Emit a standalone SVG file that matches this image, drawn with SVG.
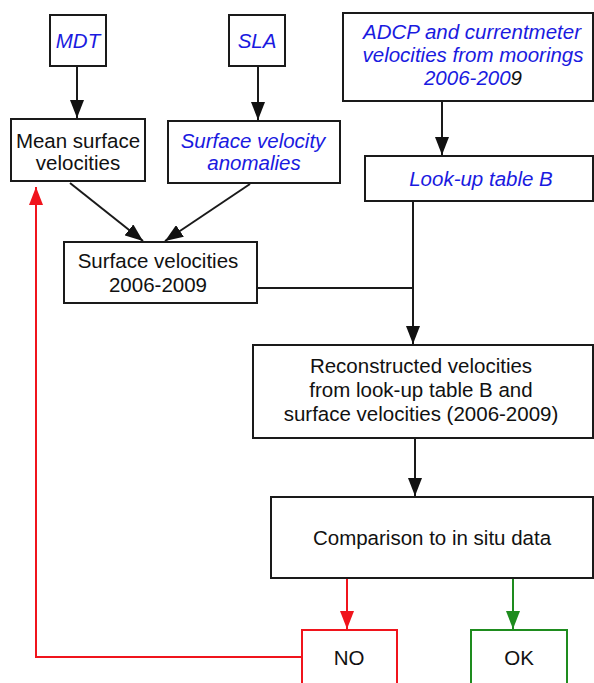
<svg xmlns="http://www.w3.org/2000/svg" width="594" height="683" viewBox="0 0 594 683">
<style>
.box{fill:#fff;stroke:#1a1a1a;stroke-width:2}
.t{font-family:"Liberation Sans",Arial,sans-serif;font-size:20.5px;fill:#111;text-anchor:middle}
.b{fill:#1a1ae0;font-style:italic}
.c{fill:none;stroke:#1a1a1a;stroke-width:2}
.red{stroke:#f0141c}
.grn{stroke:#1e8c1e}
</style>
<defs>
<marker id="ak" markerUnits="userSpaceOnUse" markerWidth="18" markerHeight="14" refX="18" refY="7" orient="auto"><path d="M0,0 L18,7 L0,14 z" fill="#111"/></marker>
<marker id="ar" markerUnits="userSpaceOnUse" markerWidth="18" markerHeight="14" refX="18" refY="7" orient="auto"><path d="M0,0 L18,7 L0,14 z" fill="#f0141c"/></marker>
<marker id="ag" markerUnits="userSpaceOnUse" markerWidth="18" markerHeight="14" refX="18" refY="7" orient="auto"><path d="M0,0 L18,7 L0,14 z" fill="#1e8c1e"/></marker>
</defs>
<rect width="594" height="683" fill="#fff"/>
<g id="connectors">
<line class="c" x1="77" y1="66" x2="77" y2="118" marker-end="url(#ak)"/>
<line class="c" x1="258" y1="66" x2="258" y2="120" marker-end="url(#ak)"/>
<line class="c" x1="442" y1="101" x2="442" y2="155" marker-end="url(#ak)"/>
<line class="c" x1="70" y1="183" x2="143" y2="241" marker-end="url(#ak)"/>
<line class="c" x1="250" y1="184" x2="165" y2="241" marker-end="url(#ak)"/>
<line class="c" x1="413" y1="201" x2="413" y2="344" marker-end="url(#ak)"/>
<line class="c" x1="257" y1="288" x2="413" y2="288"/>
<line class="c" x1="415" y1="438" x2="415" y2="496" marker-end="url(#ak)"/>
<line class="c red" x1="347" y1="578" x2="347" y2="629" marker-end="url(#ar)"/>
<line class="c grn" x1="513" y1="578" x2="513" y2="629" marker-end="url(#ag)"/>
<polyline class="c red" points="302,657 36,657 36,187" marker-end="url(#ar)"/>
</g>
<g id="mdt"><rect class="box" x="50" y="15" width="56" height="51"/><text class="t b" x="78" y="48">MDT</text></g>
<g id="sla"><rect class="box" x="229" y="15" width="56" height="51"/><text class="t b" x="257" y="48">SLA</text></g>
<g id="adcp"><rect class="box" x="343" y="13" width="250" height="88"/>
<text class="t b" x="472" y="39">ADCP and currentmeter</text>
<text class="t b" x="473" y="62">velocities from moorings</text>
<text class="t b" x="473" y="85">2006-200<tspan fill="#111">9</tspan></text></g>
<g id="mean"><rect class="box" x="11" y="119" width="134" height="62"/>
<text class="t" x="78" y="148">Mean surface</text>
<text class="t" x="78" y="170">velocities</text></g>
<g id="anom"><rect class="box" x="168" y="121" width="172" height="62"/>
<text class="t b" x="253" y="148">Surface velocity</text>
<text class="t b" x="254" y="170">anomalies</text></g>
<g id="lookup"><rect class="box" x="365" y="156" width="228" height="45"/>
<text class="t b" x="481" y="186">Look-up table B</text></g>
<g id="surf"><rect class="box" x="64" y="242" width="193" height="61"/>
<text class="t" x="158" y="268">Surface velocities</text>
<text class="t" x="158" y="292">2006-2009</text></g>
<g id="recon"><rect class="box" x="253" y="345" width="340" height="93"/>
<text class="t" x="421" y="373">Reconstructed velocities</text>
<text class="t" x="421" y="397">from look-up table B and</text>
<text class="t" x="421" y="421">surface velocities (2006-2009)</text></g>
<g id="comp"><rect class="box" x="271" y="497" width="322" height="81"/>
<text class="t" x="432" y="545">Comparison to in situ data</text></g>
<g id="no"><rect class="box red" x="302" y="630" width="95" height="62"/>
<text class="t" x="349" y="665">NO</text></g>
<g id="ok"><rect class="box grn" x="471" y="630" width="96" height="62"/>
<text class="t" x="519" y="665">OK</text></g>
</svg>
